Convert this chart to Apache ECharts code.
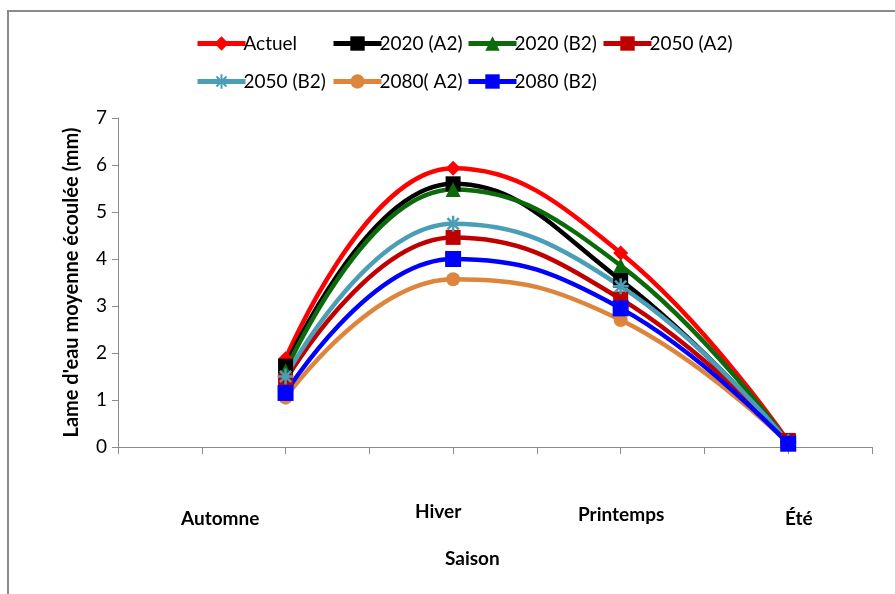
<!DOCTYPE html>
<html>
<head>
<meta charset="utf-8">
<script src="https://cdn.jsdelivr.net/npm/echarts@6/dist/echarts.min.js"></script>
<style>
  html, body { margin: 0; padding: 0; background: #fff; }
  #chart { width: 895px; height: 594px; }
</style>
</head>
<body>
<div id="chart"></div>
<script>
// Seasons placed at x = 1..4 on a numeric axis
const seasons = ['Automne', 'Hiver', 'Printemps', 'Été'];
const seasonX = [1, 2, 3, 4];

// Lame d'eau moyenne écoulée (mm) per season
const actuel   = [1.88, 5.93, 4.13, 0.12];
const a2_2020  = [1.72, 5.60, 3.55, 0.12];
const b2_2020  = [1.62, 5.48, 3.86, 0.10];
const a2_2050  = [1.42, 4.46, 3.15, 0.14];
const b2_2050  = [1.50, 4.75, 3.42, 0.10];
const a2_2080  = [1.05, 3.57, 2.70, 0.08];
const b2_2080  = [1.15, 4.00, 2.95, 0.07];

const yTicks = [0, 1, 2, 3, 4, 5, 6, 7];

const FONT = 'Lato, "Open Sans", sans-serif';

const starPath = 'path://M0,5 L10,5 M5,0 L5,10 M1.5,1.5 L8.5,8.5 M8.5,1.5 L1.5,8.5';

const seriesDefs = [
  { name: 'Actuel',    values: actuel,  color: '#FF0000', symbol: 'diamond',  size: 15 },
  { name: '2020 (A2)', values: a2_2020, color: '#000000', symbol: 'rect',     size: 15 },
  { name: '2020 (B2)', values: b2_2020, color: '#0B6B0B', symbol: 'triangle', size: 15 },
  { name: '2050 (A2)', values: a2_2050, color: '#C00000', symbol: 'rect',     size: 15 },
  { name: '2050 (B2)', values: b2_2050, color: '#4A9EB5', symbol: starPath,   size: 16, star: true },
  { name: '2080( A2)', values: a2_2080, color: '#DD853D', symbol: 'circle',   size: 14 },
  { name: '2080 (B2)', values: b2_2080, color: '#0000FF', symbol: 'rect',     size: 16 }
];

const series = seriesDefs.map(d => ({
  name: d.name,
  type: 'line',
  smooth: 0.45,
  data: d.values.map((v, i) => [seasonX[i], v]),
  symbol: d.symbol,
  symbolSize: d.size,
  showAllSymbol: true,
  lineStyle: { color: d.color, width: 4.5 },
  itemStyle: d.star
    ? { color: 'rgba(0,0,0,0)', borderColor: d.color, borderWidth: 2.5 }
    : { color: d.color, borderColor: d.color, borderWidth: 0 },
  emphasis: { disabled: true },
  animation: false
}));

function legendCol(names, left) {
  return {
    data: names,
    orient: 'vertical',
    left: left,
    top: 34,
    padding: 0,
    itemWidth: 48,
    itemHeight: 18,
    itemGap: 19,
    lineStyle: { width: 5 },
    textStyle: { fontFamily: FONT, fontSize: 19, color: '#000', padding: [0, 0, 0, -7] },
    selectedMode: false
  };
}

const labelFont = 'bold 19px ' + FONT;

const chart = echarts.init(document.getElementById('chart'), null, { renderer: 'canvas' });

chart.setOption({
  backgroundColor: '#fff',
  animation: false,
  grid: { left: 118, right: 23, top: 118, bottom: 147, containLabel: false },
  legend: [
    legendCol(['Actuel', '2050 (B2)'], 195),
    legendCol(['2020 (A2)', '2080( A2)'], 331),
    legendCol(['2020 (B2)', '2080 (B2)'], 466),
    legendCol(['2050 (A2)'], 601)
  ],
  xAxis: {
    type: 'value',
    min: 0,
    max: 4.5,
    interval: 0.5,
    axisLine: { lineStyle: { color: '#8c8c8c', width: 1 } },
    axisTick: { show: true, length: 7, lineStyle: { color: '#8c8c8c' } },
    axisLabel: { show: false },
    splitLine: { show: false }
  },
  yAxis: {
    type: 'value',
    min: yTicks[0],
    max: yTicks[yTicks.length - 1],
    interval: 1,
    name: "Lame d'eau moyenne écoulée (mm)",
    nameLocation: 'middle',
    nameGap: 36,
    nameRotate: 90,
    nameTextStyle: { fontFamily: FONT, fontSize: 20, fontWeight: 'bold', color: '#000' },
    axisLine: { show: true, lineStyle: { color: '#8c8c8c', width: 1 } },
    axisTick: { show: true, length: 6, lineStyle: { color: '#8c8c8c' } },
    axisLabel: { fontFamily: FONT, fontSize: 19, color: '#000', margin: 11 },
    splitLine: { show: false }
  },
  graphic: [
    {
      type: 'rect', silent: true, z: 100,
      shape: { x: 8, y: 11, width: 920, height: 620 },
      style: { fill: 'none', stroke: '#8a8a8a', lineWidth: 2 }
    },
    { type: 'text', left: 181, top: 509, style: { text: seasons[0], font: labelFont, fill: '#000' } },
    { type: 'text', left: 415, top: 502, style: { text: seasons[1], font: labelFont, fill: '#000' } },
    { type: 'text', left: 578, top: 505, style: { text: seasons[2], font: labelFont, fill: '#000' } },
    { type: 'text', left: 785, top: 509, style: { text: seasons[3], font: labelFont, fill: '#000' } },
    { type: 'text', left: 445, top: 549, style: { text: 'Saison', font: labelFont, fill: '#000' } }
  ],
  series: series
});
</script>
</body>
</html>
